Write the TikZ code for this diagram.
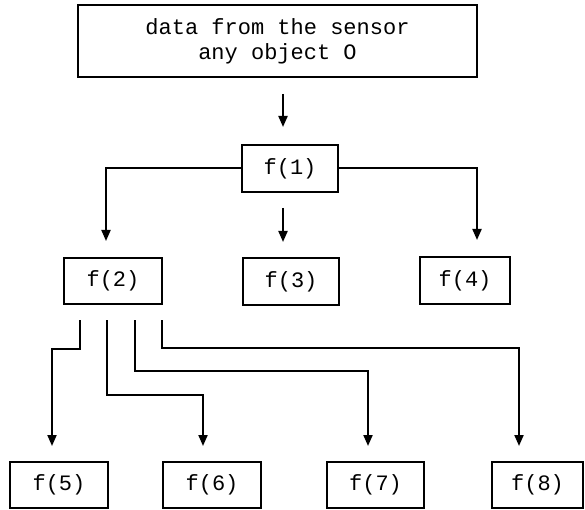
\documentclass[tikz,border=0pt]{standalone}
\usepackage{fontspec}
\newfontfamily\monofnt{Liberation Mono}
\usetikzlibrary{arrows.meta}
\begin{document}
\begin{tikzpicture}[x=1pt,y=-1pt,
  box/.style={draw,line width=2pt,inner sep=0pt,align=center,
    font=\monofnt\fontsize{22}{25}\selectfont},
  arr/.style={line width=2pt,-{Triangle[length=11pt,width=9pt]}},
  link/.style={arr,shorten <=15pt,shorten >=15pt}]
\useasboundingbox (0,0) rectangle (585,510);
\node[box,minimum width=399pt,minimum height=72pt] (top) at (277.5,41) {data from the sensor\\any object O};
\node[box,minimum width=96pt,minimum height=47pt] (f1) at (290,168.5) {f(1)};
\node[box,minimum width=98pt,minimum height=46pt] (f2) at (113,281) {f(2)};
\node[box,minimum width=96pt,minimum height=47pt] (f3) at (291,281.5) {f(3)};
\node[box,minimum width=90pt,minimum height=47pt] (f4) at (465,280.5) {f(4)};
\node[box,minimum width=98pt,minimum height=46pt] (f5) at (59,485) {f(5)};
\node[box,minimum width=98pt,minimum height=46pt] (f6) at (212,485) {f(6)};
\node[box,minimum width=97pt,minimum height=46pt] (f7) at (375.5,485) {f(7)};
\node[box,minimum width=91pt,minimum height=46pt] (f8) at (537.5,485) {f(8)};
% helper coordinates
\coordinate (a1) at (283,0);
\coordinate (a2) at (106,0);
\coordinate (a4) at (477,0);
\coordinate (s5) at (80,0);
\coordinate (s6) at (107,0);
\coordinate (s7) at (135,0);
\coordinate (s8) at (162,0);
\coordinate (t5) at (52,349);
\coordinate (t6) at (203,395);
\coordinate (t7) at (368,371);
\coordinate (t8) at (519,348);
% connectors
\draw[arr,shorten <=16pt,shorten >=17pt] (top.south -| a1) -- (f1.north -| a1);
\draw[link] (f1.south -| a1) -- (f3.north -| a1);
\draw[arr,shorten >=16pt] (f1.west) -| (f2.north -| a2);
\draw[arr,shorten >=16pt] (f1.east) -| (f4.north -| a4);
\draw[link] (f2.south -| s5) |- (t5) -- (f5.north -| t5);
\draw[link] (f2.south -| s6) |- (t6) -- (f6.north -| t6);
\draw[link] (f2.south -| s7) |- (t7) -- (f7.north -| t7);
\draw[link] (f2.south -| s8) |- (t8) -- (f8.north -| t8);
\end{tikzpicture}
\end{document}
